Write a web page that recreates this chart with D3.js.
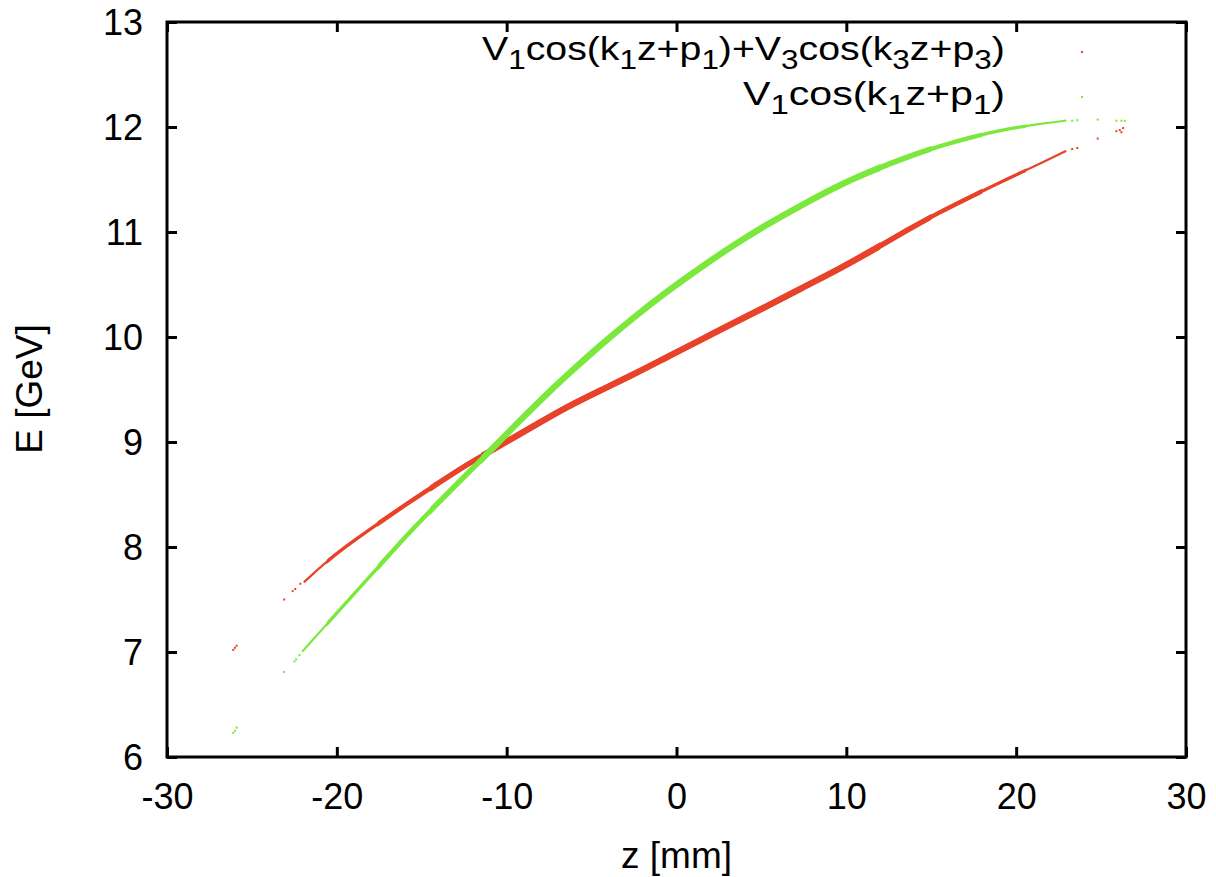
<!DOCTYPE html>
<html>
<head>
<meta charset="utf-8">
<script src="https://cdn.jsdelivr.net/npm/d3@7"></script>
<style>
  html, body { margin: 0; padding: 0; background: #fff; }
  svg { display: block; }
  text { font-family: "Liberation Sans", Arial, Helvetica, sans-serif; fill: #000; }
</style>
</head>
<body>
<svg id="chart" width="1216" height="877"></svg>
<script>
// ---------------- data ----------------
const xTicks = [-30, -20, -10, 0, 10, 20, 30];
const yTicks = [6, 7, 8, 9, 10, 11, 12, 13];

// series 1 (red): V1cos(k1z+p1)+V3cos(k3z+p3) — dense core of the bunch
const redZ = [-21.9, -21.5, -20.4, -19.0, -17.5, -15.9, -14.1, -12.5, -11.0, -9.5, -8.0, -6.5, -4.5, -2.5, -0.6, 1.4, 3.3, 5.3, 7.3, 9.6, 11.6, 13.5, 15.5, 17.5, 19.4, 21.4, 22.9];
const redE = [7.67, 7.73, 7.89, 8.06, 8.23, 8.41, 8.60, 8.77, 8.91, 9.05, 9.19, 9.33, 9.49, 9.645, 9.805, 9.97, 10.13, 10.29, 10.46, 10.65, 10.83, 11.01, 11.19, 11.35, 11.50, 11.65, 11.77];
// red sparse tail particles
const redTailZ = [-26.1, -26.0, -25.9, -23.1, -22.6, -22.45, -22.15, 23.3, 23.6, 24.8, 25.9, 26.1, 26.3, 26.2];
const redTailE = [7.02, 7.04, 7.06, 7.50, 7.58, 7.60, 7.65, 11.79, 11.80, 11.89, 11.96, 11.97, 11.99, 11.95];

// series 2 (green): V1cos(k1z+p1)
const greenZ = [-22.0, -21.5, -20.4, -19.0, -17.5, -15.9, -14.1, -12.5, -11.0, -9.5, -8.0, -6.5, -4.5, -2.5, -0.6, 1.4, 3.3, 5.3, 7.3, 9.6, 11.6, 13.5, 15.5, 17.5, 19.4, 21.4, 22.9];
const greenE = [7.01, 7.10, 7.30, 7.55, 7.82, 8.11, 8.41, 8.67, 8.91, 9.16, 9.40, 9.63, 9.92, 10.19, 10.43, 10.66, 10.87, 11.07, 11.25, 11.45, 11.59, 11.71, 11.82, 11.91, 11.98, 12.03, 12.06];
const greenTailZ = [-26.1, -26.0, -25.9, -23.1, -22.5, -22.4, -22.2, 23.3, 23.6, 24.8, 25.9, 26.2, 26.4];
const greenTailE = [6.23, 6.25, 6.28, 6.81, 6.91, 6.93, 6.97, 12.06, 12.065, 12.07, 12.06, 12.06, 12.06];

// ---------------- layout ----------------
const svg = d3.select("#chart");
const L = 167, R = 1186, T = 22, B = 757;
const x = d3.scaleLinear().domain([-30, 30]).range([L, R]);
const y = d3.scaleLinear().domain([6, 13]).range([B, T]);
const RED = "#e8432a", GREEN = "#7be83c";
const FS = 36;

const defs = svg.append("defs");
defs.append("clipPath").attr("id", "plotclip").append("rect")
  .attr("x", L).attr("y", T).attr("width", R - L).attr("height", B - T);

// band thickness layers (z-ranges and widths)
const layers = [
  { lo: -30, hi: 30, w: 2.2 },
  { lo: -20.6, hi: 20.6, w: 3.3 },
  { lo: -17.6, hi: 18.0, w: 4.4 },
  { lo: -14.5, hi: 15.0, w: 5.4 },
  { lo: -11.5, hi: 12.0, w: 6.3 }
];
layers.forEach((ly, i) => {
  defs.append("clipPath").attr("id", "band" + i).append("rect")
    .attr("x", x(ly.lo)).attr("y", 0).attr("width", x(ly.hi) - x(ly.lo)).attr("height", 877);
});

const line = d3.line().x(d => x(d[0])).y(d => y(d[1])).curve(d3.curveBasis);
const plot = svg.append("g").attr("clip-path", "url(#plotclip)");

function drawSeries(zs, es, tz, te, color) {
  const data = zs.map((z, i) => [z, es[i]]);
  const g = plot.append("g");
  layers.forEach((ly, i) => {
    g.append("g").attr("clip-path", "url(#band" + i + ")")
      .append("path").datum(data)
      .attr("d", line)
      .attr("fill", "none")
      .attr("stroke", color)
      .attr("stroke-width", ly.w)
      .attr("stroke-linecap", i === 0 ? "round" : "butt")
      .attr("stroke-linejoin", "round");
  });
  const tail = tz.map((z, i) => [z, te[i]]);
  g.selectAll("rect.tail").data(tail).enter().append("rect")
    .attr("class", "tail")
    .attr("x", d => x(d[0]) - 1)
    .attr("y", d => y(d[1]) - 1)
    .attr("width", 2).attr("height", 2)
    .attr("fill", color);
}
drawSeries(redZ, redE, redTailZ, redTailE, RED);
drawSeries(greenZ, greenE, greenTailZ, greenTailE, GREEN);

// ---------------- axes ----------------
const fmt = d => String(d);
function styleAxis(g) {
  g.select(".domain").remove();
  g.selectAll(".tick line").attr("stroke", "#000").attr("stroke-width", 3);
  g.selectAll(".tick text").attr("font-size", FS).attr("font-family", '"Liberation Sans", Arial, sans-serif').attr("fill", "#000");
}
svg.append("g").attr("transform", `translate(0,${B})`)
  .call(d3.axisBottom(x).tickValues(xTicks).tickSize(-10).tickPadding(26).tickFormat(fmt))
  .call(styleAxis);
svg.append("g").attr("transform", `translate(0,${T})`)
  .call(d3.axisTop(x).tickValues(xTicks).tickSize(-10).tickFormat(""))
  .call(styleAxis);
const yAx = svg.append("g").attr("transform", `translate(${L},0)`)
  .call(d3.axisLeft(y).tickValues(yTicks).tickSize(-10).tickPadding(24).tickFormat(fmt))
  .call(styleAxis);
yAx.selectAll(".tick text").attr("dy", "0.36em");
svg.append("g").attr("transform", `translate(${R},0)`)
  .call(d3.axisRight(y).tickValues(yTicks).tickSize(-10).tickFormat(""))
  .call(styleAxis);

svg.append("rect").attr("x", L).attr("y", T).attr("width", R - L).attr("height", B - T)
  .attr("fill", "none").attr("stroke", "#000").attr("stroke-width", 3);

// axis titles
svg.append("text").attr("x", (L + R) / 2).attr("y", 868).attr("text-anchor", "middle")
  .attr("font-size", 37).text("z [mm]");
svg.append("text").attr("transform", "translate(42,389) rotate(-90)").attr("text-anchor", "middle")
  .attr("font-size", 37).text("E [GeV]");

// ---------------- legend ----------------
const legendParts = [
  [["V", 0], ["1", 1], ["cos(k", 0], ["1", 1], ["z+p", 0], ["1", 1], [")+V", 0], ["3", 1], ["cos(k", 0], ["3", 1], ["z+p", 0], ["3", 1], [")", 0]],
  [["V", 0], ["1", 1], ["cos(k", 0], ["1", 1], ["z+p", 0], ["1", 1], [")", 0]]
];
const legendColors = [RED, GREEN];
const legendBase = [60, 105];
const legendWidth = [523, 262];
const LFS = 34;
legendParts.forEach((parts, i) => {
  const g = svg.append("g");
  const t = g.append("text").attr("x", 0).attr("y", 0).attr("font-size", LFS);
  let sub = false;
  parts.forEach(([s, isSub]) => {
    const ts = t.append("tspan").text(s);
    if (isSub && !sub) { ts.attr("dy", 9).attr("font-size", LFS * 0.8); sub = true; }
    else if (isSub) { ts.attr("font-size", LFS * 0.8); }
    else if (!isSub && sub) { ts.attr("dy", -9); sub = false; }
  });
  const w = t.node().getComputedTextLength();
  const sx = legendWidth[i] / w;
  g.attr("transform", `translate(${1005 - legendWidth[i]},${legendBase[i]}) scale(${sx},1)`);
  svg.append("rect").attr("x", 1081).attr("y", legendBase[i] - 9).attr("width", 2).attr("height", 2)
    .attr("fill", legendColors[i]);
});
</script>
</body>
</html>
